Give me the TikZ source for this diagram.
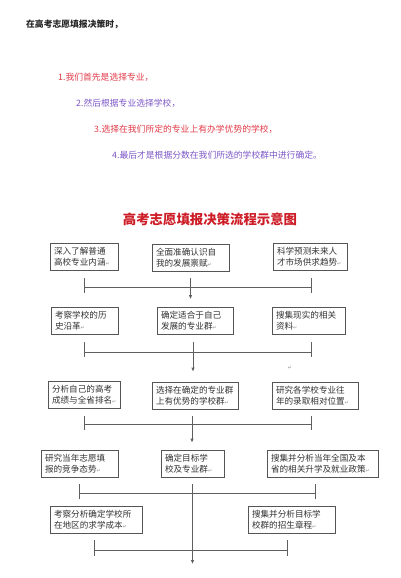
\documentclass[tikz,border=0pt]{standalone}
\usepackage{fontspec}
\newfontfamily\cjk{Noto Sans CJK SC}
\newfontfamily\dvs{DejaVu Sans}
\usetikzlibrary{arrows.meta,calc}
\definecolor{redtxt}{RGB}{226,58,72}
\definecolor{purtxt}{RGB}{125,88,200}
\definecolor{ttlred}{RGB}{205,30,40}
\definecolor{boxgray}{RGB}{85,85,85}
\definecolor{lngray}{RGB}{95,95,95}
\definecolor{markgray}{RGB}{150,150,150}
\newcommand{\retmark}{{\dvs\fontsize{5}{5}\selectfont\textcolor{markgray}{↵}}}
\begin{document}
\begin{tikzpicture}[x=1pt,y=-1pt,
  bx/.style={draw=boxgray, line width=0.8pt, align=left, inner xsep=4pt, inner ysep=2pt,
    text width=#1, minimum height=27pt, font=\cjk\fontsize{8.6}{11}\selectfont, text=black!80},
  ln/.style={draw=lngray, line width=0.8pt},
  arr/.style={ln, -{Latex[length=4pt,width=3.5pt]}},
  txt/.style={anchor=west, inner sep=0pt, font=\cjk\fontsize{8.8}{10}\selectfont}]
\useasboundingbox[fill=white] (0,0) rectangle (400,578);

% intro text
\node[txt, font=\cjk\bfseries\fontsize{8.8}{10}\selectfont, text=black!85] (hd) at (26,24) {在高考志愿填报决策时，};
\node[txt, text=redtxt] (l1) at (58,77) {1.我们首先是选择专业，};
\node[txt, text=purtxt] (l2) at (76,103) {2.然后根据专业选择学校，};
\node[txt, text=redtxt] (l3) at (94,129) {3.选择在我们所定的专业上有办学优势的学校，};
\node[txt, text=purtxt] (l4) at (112,155) {4.最后才是根据分数在我们所选的学校群中进行确定。};

% title
\node[inner sep=0pt, font=\cjk\bfseries\fontsize{13.4}{15}\selectfont, text=ttlred] (ttl) at (210,219) {高考志愿填报决策流程示意图};

% row 1
\node[bx=60pt] (A) at (84,257) {深入了解普通\\高校专业内涵\retmark};
\node[bx=69pt] (B) at (190.5,257.5) {全面准确认识自\\我的发展禀赋\retmark};
\node[bx=66pt] (C) at (310,257) {科学预测未来人\\才市场供求趋势\retmark};
% row 2
\node[bx=59pt] (D) at (84.5,321) {考察学校的历\\史沿革\retmark};
\node[bx=68pt] (E) at (195,321) {确定适合于自己\\发展的专业群\retmark};
\node[bx=65pt] (F) at (308.5,321) {搜集现实的相关\\资料\retmark};
% row 3
\node[bx=64pt] (G) at (84,395) {分析自己的高考\\成绩与全省排名\retmark};
\node[bx=78pt] (H) at (195,395.5) {选择在确定的专业群\\上有优势的学校群\retmark};
\node[bx=78pt] (I) at (315,395.5) {研究各学校专业往\\年的录取相对位置\retmark};
% row 4
\node[bx=69pt] (J) at (79.5,463.5) {研究当年志愿填\\报的竞争态势\retmark};
\node[bx=55pt] (K) at (192.5,463.5) {确定目标学\\校及专业群\retmark};
\node[bx=103pt] (L) at (322.5,463.5) {搜集并分析当年全国及本\\省的相关升学及就业政策\retmark};
% row 5
\node[bx=84pt] (M) at (96,519.5) {考察分析确定学校所\\在地区的求学成本\retmark};
\node[bx=79pt] (N) at (291.5,519.5) {搜集并分析目标学\\校群的招生章程\retmark};

% stray mark
\node[inner sep=0pt] (sm) at (290,368) {\retmark};

% bus 1
\coordinate (b1l) at (84,287); \coordinate (b1r) at (311,287);
\draw[ln] (b1l) -- (b1r);
\draw[ln] ($(b1l)+(0,-9)$) -- ($(b1l)+(0,6)$);
\draw[ln] ($(b1r)+(0,-9)$) -- ($(b1r)+(0,6)$);
\draw[arr] ($(B.south)+(0,7)$) -- ($(B.south |- E.north)+(0,-8)$);

% bus 2
\coordinate (b2l) at (84,352); \coordinate (b2r) at (311,352);
\draw[ln] (b2l) -- (b2r);
\draw[ln] ($(b2l)+(0,-10)$) -- ($(b2l)+(0,5)$);
\draw[ln] ($(b2r)+(0,-10)$) -- ($(b2r)+(0,5)$);
\draw[arr] ($(E.south)+(-2,7)$) -- ($(E.south |- H.north)+(-2,-10)$);

% bus 3
\coordinate (b3l) at (84,424); \coordinate (b3r) at (311,424);
\draw[ln] (b3l) -- (b3r);
\draw[ln] ($(b3l)+(0,-8)$) -- ($(b3l)+(0,6)$);
\draw[ln] ($(b3r)+(0,-8)$) -- ($(b3r)+(0,6)$);
\draw[arr] ($(H.south)+(-3,7)$) -- ($(H.south |- J.north)+(-3,-7)$);

% bus 4
\coordinate (b4l) at (79,493); \coordinate (b4r) at (315,493);
\draw[ln] (b4l) -- (b4r);
\draw[ln] ($(b4l)+(0,-9)$) -- ($(b4l)+(0,6)$);
\draw[ln] ($(b4r)+(0,-9)$) -- ($(b4r)+(0,6)$);

% bus 5
\coordinate (b5l) at (94,550); \coordinate (b5r) at (287,550);
\draw[ln] (b5l) -- (b5r);
\draw[ln] ($(b5l)+(0,-10)$) -- ($(b5l)+(0,6)$);
\draw[ln] ($(b5r)+(0,-10)$) -- ($(b5r)+(0,6)$);

\coordinate (fin) at (192.5,564);
\draw[arr] ($(K.south)+(0,7)$) -- (fin);
\end{tikzpicture}
\end{document}
